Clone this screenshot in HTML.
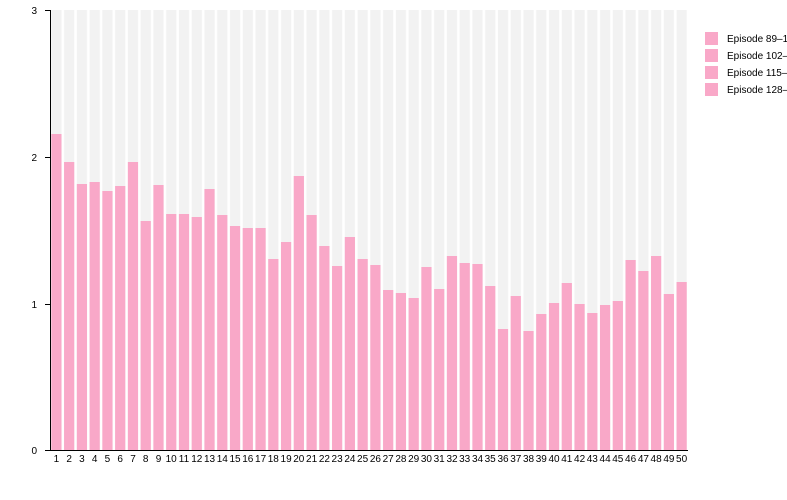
<!DOCTYPE html>
<html><head><meta charset="utf-8"><style>
html,body{margin:0;padding:0;background:#fff;}
svg{display:block;font-family:"Liberation Sans",sans-serif;}
</style></head><body>
<svg width="787" height="500" viewBox="0 0 787 500">
<defs>
<pattern id="bg" x="50" y="0" width="12.76" height="500" patternUnits="userSpaceOnUse">
<rect x="1.3" y="0" width="10.2" height="500" fill="#f2f2f2"/>
</pattern>
</defs>
<rect x="50" y="10" width="638" height="440" fill="url(#bg)"/>
<g fill="#f9a8c8" id="bars"></g>
<g fill="#f9a8c8">
<rect x="51.3" y="134" width="10.2" height="316"/>
<rect x="64.06" y="162" width="10.2" height="288"/>
<rect x="76.82" y="184" width="10.2" height="266"/>
<rect x="89.58" y="182" width="10.2" height="268"/>
<rect x="102.34" y="191" width="10.2" height="259"/>
<rect x="115.1" y="186" width="10.2" height="264"/>
<rect x="127.86" y="162" width="10.2" height="288"/>
<rect x="140.62" y="221" width="10.2" height="229"/>
<rect x="153.38" y="185" width="10.2" height="265"/>
<rect x="166.14" y="214" width="10.2" height="236"/>
<rect x="178.9" y="214" width="10.2" height="236"/>
<rect x="191.66" y="217" width="10.2" height="233"/>
<rect x="204.42" y="189" width="10.2" height="261"/>
<rect x="217.18" y="215" width="10.2" height="235"/>
<rect x="229.94" y="226" width="10.2" height="224"/>
<rect x="242.7" y="228" width="10.2" height="222"/>
<rect x="255.46" y="228" width="10.2" height="222"/>
<rect x="268.22" y="259" width="10.2" height="191"/>
<rect x="280.98" y="242" width="10.2" height="208"/>
<rect x="293.74" y="176" width="10.2" height="274"/>
<rect x="306.5" y="215" width="10.2" height="235"/>
<rect x="319.26" y="246" width="10.2" height="204"/>
<rect x="332.02" y="266" width="10.2" height="184"/>
<rect x="344.78" y="237" width="10.2" height="213"/>
<rect x="357.54" y="259" width="10.2" height="191"/>
<rect x="370.3" y="265" width="10.2" height="185"/>
<rect x="383.06" y="290" width="10.2" height="160"/>
<rect x="395.82" y="293" width="10.2" height="157"/>
<rect x="408.58" y="298" width="10.2" height="152"/>
<rect x="421.34" y="267" width="10.2" height="183"/>
<rect x="434.1" y="289" width="10.2" height="161"/>
<rect x="446.86" y="256" width="10.2" height="194"/>
<rect x="459.62" y="263" width="10.2" height="187"/>
<rect x="472.38" y="264" width="10.2" height="186"/>
<rect x="485.14" y="286" width="10.2" height="164"/>
<rect x="497.9" y="329" width="10.2" height="121"/>
<rect x="510.66" y="296" width="10.2" height="154"/>
<rect x="523.42" y="331" width="10.2" height="119"/>
<rect x="536.18" y="314" width="10.2" height="136"/>
<rect x="548.94" y="303" width="10.2" height="147"/>
<rect x="561.7" y="283" width="10.2" height="167"/>
<rect x="574.46" y="304" width="10.2" height="146"/>
<rect x="587.22" y="313" width="10.2" height="137"/>
<rect x="599.98" y="305" width="10.2" height="145"/>
<rect x="612.74" y="301" width="10.2" height="149"/>
<rect x="625.5" y="260" width="10.2" height="190"/>
<rect x="638.26" y="271" width="10.2" height="179"/>
<rect x="651.02" y="256" width="10.2" height="194"/>
<rect x="663.78" y="294" width="10.2" height="156"/>
<rect x="676.54" y="282" width="10.2" height="168"/>
</g>
<g stroke="#000" stroke-width="1">
<line x1="50.5" y1="10" x2="50.5" y2="450"/>
<line x1="50" y1="450.5" x2="688" y2="450.5"/>
<line x1="45" y1="10.5" x2="50" y2="10.5"/>
<line x1="45" y1="157.5" x2="50" y2="157.5"/>
<line x1="45" y1="304.5" x2="50" y2="304.5"/>
<line x1="45" y1="450.5" x2="50" y2="450.5"/>
</g>
<g font-size="10" fill="#000" text-anchor="end">
<text x="37" y="14">3</text>
<text x="37" y="161">2</text>
<text x="37" y="308">1</text>
<text x="37" y="454">0</text>
</g>
<g font-size="10" fill="#000" text-anchor="middle">
<text x="56.4" y="462">1</text><text x="69.1" y="462">2</text><text x="81.9" y="462">3</text><text x="94.7" y="462">4</text><text x="107.4" y="462">5</text><text x="120.2" y="462">6</text><text x="133" y="462">7</text><text x="145.7" y="462">8</text><text x="158.5" y="462">9</text><text x="171.2" y="462">10</text><text x="184" y="462">11</text><text x="196.8" y="462">12</text><text x="209.5" y="462">13</text><text x="222.3" y="462">14</text><text x="235" y="462">15</text><text x="247.8" y="462">16</text><text x="260.6" y="462">17</text><text x="273.3" y="462">18</text><text x="286.1" y="462">19</text><text x="298.8" y="462">20</text><text x="311.6" y="462">21</text><text x="324.4" y="462">22</text><text x="337.1" y="462">23</text><text x="349.9" y="462">24</text><text x="362.6" y="462">25</text><text x="375.4" y="462">26</text><text x="388.2" y="462">27</text><text x="400.9" y="462">28</text><text x="413.7" y="462">29</text><text x="426.4" y="462">30</text><text x="439.2" y="462">31</text><text x="452" y="462">32</text><text x="464.7" y="462">33</text><text x="477.5" y="462">34</text><text x="490.2" y="462">35</text><text x="503" y="462">36</text><text x="515.8" y="462">37</text><text x="528.5" y="462">38</text><text x="541.3" y="462">39</text><text x="554" y="462">40</text><text x="566.8" y="462">41</text><text x="579.6" y="462">42</text><text x="592.3" y="462">43</text><text x="605.1" y="462">44</text><text x="617.8" y="462">45</text><text x="630.6" y="462">46</text><text x="643.4" y="462">47</text><text x="656.1" y="462">48</text><text x="668.9" y="462">49</text><text x="681.6" y="462">50</text>
</g>
<g fill="#f9a8c8">
<rect x="705" y="32" width="13" height="13"/>
<rect x="705" y="49" width="13" height="13"/>
<rect x="705" y="66" width="13" height="13"/>
<rect x="705" y="83" width="13" height="13"/>
</g>
<g font-size="10" fill="#000">
<text x="727" y="42">Episode 89–100</text>
<text x="727" y="59">Episode 102–114</text>
<text x="727" y="76">Episode 115–127</text>
<text x="727" y="93">Episode 128–140</text>
</g>
</svg>
</body></html>
